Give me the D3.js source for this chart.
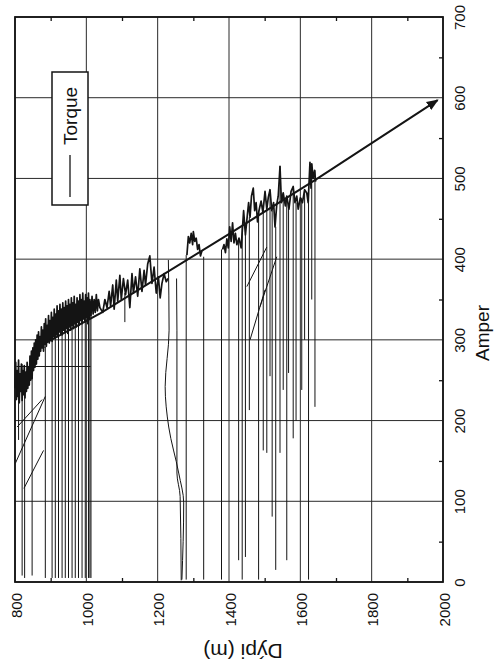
<!DOCTYPE html>
<html>
<head>
<meta charset="utf-8">
<script src="https://cdn.jsdelivr.net/npm/d3@7"></script>
<style>
  html, body { margin: 0; padding: 0; background: #fff; }
  svg { display: block; }
  text { font-family: "Liberation Sans", Arial, sans-serif; fill: #111; }
</style>
</head>
<body>
<script>
// ---------------- data ----------------
const depthTicks = [800, 1000, 1200, 1400, 1600, 1800, 2000];
const depthMinor = [900, 1100, 1300, 1500, 1700, 1900];
const amperTicks = [0, 100, 200, 300, 400, 500, 600, 700];
const amperMinor = [50, 150, 250, 350, 450, 550, 650];
const xTitle = "Dýpi (m)";
const yTitle = "Amper";
const seriesName = "Torque";

// torque trace segments [depth, amper]
const traceA = [
  [800,240],[802,272],[804,226],[806,262],[808,230],[810,275],[812,222],[814,258],[816,236],[818,270],
  [820,225],[822,262],[824,232],[826,268],[828,228],[830,260],[832,236],[834,272],[836,240],[838,266],
  [840,244],[842,280],[844,250],[846,286],[848,252],[850,290],[852,262],[854,296],[856,266],[858,300],
  [860,270],[862,306],[864,276],[866,310],[868,280],[870,304],[872,286],[874,316],[876,290],[878,312],
  [880,286],[882,320],[884,294],[886,326],[888,292],[890,318],[892,298],[894,330],[896,296],[898,324],
  [900,300],[902,334],[904,298],[906,328],[908,304],[910,338],[912,302],[914,332],[916,306],[918,342],
  [920,304],[922,336],[924,310],[926,344],[928,308],[930,338],[932,306],[934,346],[936,312],[938,340],
  [940,310],[942,348],[944,314],[946,342],[948,308],[950,350],[952,316],[954,344],[956,312],[958,352],
  [960,318],[962,346],[964,314],[966,354],[968,320],[970,344],[972,316],[974,352],[976,322],[978,348],
  [980,318],[982,356],[984,324],[986,350],[988,320],[990,358],[992,326],[994,348],[996,322],[998,356],
  [1000,328],[1002,352],[1004,320],[1006,358],[1008,326],[1010,350],[1013,330],[1016,354],[1019,332],
  [1022,350],[1025,334],[1028,356],[1031,336],[1034,350],[1038,340],[1046,334],
  [1052,350],[1058,340],[1064,360],[1068,342],[1074,368],[1078,338],[1084,374],[1088,348],[1094,380],
  [1098,350],[1104,376],[1110,356],[1116,374],[1122,340],[1128,382],[1132,358],[1138,378],[1144,354],
  [1150,388],[1156,360],[1162,386],[1166,368],[1172,394],[1178,404],[1184,370],[1190,390],[1196,358],
  [1202,378],[1207,352],[1212,370],[1218,382],[1224,372],[1229,376]
];
const traceB = [
  [1282,405],[1286,428],[1290,420],[1294,432],[1298,418],[1300,434],[1304,422],[1308,426],
  [1312,412],[1316,418],[1320,404],[1324,410]
];
const traceC = [
  [1382,412],[1386,418],[1390,408],[1394,425],[1398,414],[1402,440],[1406,422],[1410,445],[1414,420],
  [1418,432],[1422,418],[1428,426],[1434,414],[1438,440],[1441,460],[1446,430],[1450,448],[1455,470],
  [1459,452],[1463,478],[1468,488],[1472,460],[1476,470],[1480,446],[1484,460],[1490,472],[1495,458],
  [1501,484],[1506,462],[1510,476],[1515,486],[1520,460],[1525,470],[1529,440],[1534,468],[1538,478],
  [1543,515],[1547,470],[1552,482],[1558,466],[1562,478],[1568,462],[1574,484],[1580,490],[1585,470],
  [1590,478],[1594,462],[1600,476],[1606,470],[1612,486],[1618,482],[1622,470],[1627,520],[1630,488],
  [1632,518],[1636,500],[1640,510],[1643,496]
];
// vertical drops [depth, top amper, bottom amper]
const drops = [
  [810,250,176],[820,270,8],[827,255,5],[848,258,8],[885,292,5],[904,300,5],[913,320,5],[922,330,5],
  [932,308,5],[941,336,5],[950,316,5],[960,340,5],[969,320,5],[978,344,5],[988,326,5],[997,346,5],
  [1006,344,5],[1010,330,5],[1013,348,5],[1108,358,322],
  [1280,405,3],[1329,403,3],[1379,412,3],[1427,426,27],[1437,440,3],[1446,430,31],[1457,452,213],
  [1483,460,3],[1496,462,163],[1506,462,160],[1515,486,255],[1521,460,81],[1531,440,15],[1543,515,160],
  [1552,482,238],[1562,478,27],[1567,466,259],[1580,490,178],[1588,470,200],[1604,476,238],
  [1612,486,300],[1623,482,3],[1632,518,350],[1641,510,217]
];
// curved descending traces near 1230–1270 m
const curveA = [[1230,399],[1232,312],[1221,242],[1231,192],[1259,135],[1273,98],[1268,3]];
const curveB = [[1253,376],[1254,312],[1254,135],[1263,106],[1266,2]];
// connecting segments
const connectors = [
  [[801,147],[885,230]],
  [[825,116],[880,163]],
  [[806,192],[876,226]],
  [[804,267],[1012,267]],
  [[852,291],[885,291]],
  [[1450,366],[1506,415]],
  [[1487,341],[1534,403]],
  [[1459,300],[1501,362]]
];
// straight trend line with arrow
const trend = [[885,296],[1040,333],[1403,432],[1641,498],[1985,597]];

// ---------------- chart ----------------
const W = 496, H = 667;
const svg = d3.select("body").append("svg").attr("width", W).attr("height", H);

const x = d3.scaleLinear().domain([800, 2000]).range([15, 443]);
const y = d3.scaleLinear().domain([0, 700]).range([582, 17]);
const ink = "#141414";

// grid
svg.append("g").selectAll("line").data(depthTicks).join("line")
  .attr("x1", d => x(d)).attr("x2", d => x(d)).attr("y1", y(0)).attr("y2", y(700))
  .attr("stroke", "#2a2a2a").attr("stroke-width", 1);
svg.append("g").selectAll("line").data(amperTicks).join("line")
  .attr("x1", x(800)).attr("x2", x(2000)).attr("y1", d => y(d)).attr("y2", d => y(d))
  .attr("stroke", "#2a2a2a").attr("stroke-width", 1);

// minor ticks (inward)
const tickStyle = g => { g.select(".domain").remove(); g.selectAll("line").attr("stroke", ink).attr("stroke-width", 1.3); g.selectAll("text").remove(); };
svg.append("g").attr("transform", `translate(0,${y(0)})`)
  .call(d3.axisTop(x).tickValues(depthMinor).tickSize(4)).call(tickStyle);
svg.append("g").attr("transform", `translate(0,${y(700)})`)
  .call(d3.axisBottom(x).tickValues(depthMinor).tickSize(4)).call(tickStyle);
svg.append("g").attr("transform", `translate(${x(2000)},0)`)
  .call(d3.axisLeft(y).tickValues(amperMinor).tickSize(4)).call(tickStyle);

// data
const line = d3.line().x(d => x(d[0])).y(d => y(d[1]));
const dataG = svg.append("g").attr("fill", "none").attr("stroke", ink);
dataG.selectAll("line.drop").data(drops).join("line").attr("class", "drop")
  .attr("x1", d => x(d[0])).attr("x2", d => x(d[0]))
  .attr("y1", d => y(d[1])).attr("y2", d => y(d[2]))
  .attr("stroke-width", 1);
dataG.selectAll("path.curve").data([curveA, curveB]).join("path").attr("class", "curve")
  .attr("d", d3.line().x(d => x(d[0])).y(d => y(d[1])).curve(d3.curveMonotoneY))
  .attr("stroke-width", 1);
dataG.selectAll("path.conn").data(connectors).join("path").attr("class", "conn")
  .attr("d", line).attr("stroke-width", 1);
dataG.selectAll("path.trace").data([traceA, traceB, traceC]).join("path").attr("class", "trace")
  .attr("d", line).attr("stroke-width", 1.7).attr("stroke-linejoin", "round");

// trend line with arrowhead
svg.append("defs").append("marker")
  .attr("id", "arrow").attr("viewBox", "0 0 10 10").attr("refX", 9).attr("refY", 5)
  .attr("markerWidth", 6).attr("markerHeight", 6).attr("orient", "auto-start-reverse")
  .append("path").attr("d", "M0,1 L10,5 L0,9 Z").attr("fill", ink);
svg.append("path").datum(trend).attr("d", line)
  .attr("fill", "none").attr("stroke", ink).attr("stroke-width", 2)
  .attr("marker-end", "url(#arrow)");

// frame
svg.append("rect").attr("x", x(800)).attr("y", y(700))
  .attr("width", x(2000) - x(800)).attr("height", y(0) - y(700))
  .attr("fill", "none").attr("stroke", ink).attr("stroke-width", 1.8);

// right axis labels (rotated)
const yAxis = svg.append("g").attr("transform", `translate(${x(2000)},0)`)
  .call(d3.axisRight(y).tickValues(amperTicks).tickSize(0).tickFormat(d3.format("d")));
yAxis.select(".domain").remove();
yAxis.selectAll("text")
  .attr("x", 0).attr("dy", 0)
  .attr("transform", "translate(22,0) rotate(-90)")
  .attr("text-anchor", "middle")
  .style("font-size", "15px").style("font-family", "'Liberation Sans', Arial, sans-serif").attr("fill", ink);

// bottom axis labels (rotated)
const xAxis = svg.append("g").attr("transform", `translate(0,${y(0)})`)
  .call(d3.axisBottom(x).tickValues(depthTicks).tickSize(0).tickFormat(d3.format("d")));
xAxis.select(".domain").remove();
xAxis.selectAll("text")
  .attr("y", 0).attr("dy", 0)
  .attr("transform", "translate(6,11) rotate(-90)")
  .attr("text-anchor", "end")
  .style("font-size", "15px").style("font-family", "'Liberation Sans', Arial, sans-serif").attr("fill", ink);

// titles
svg.append("text").attr("transform", "translate(489,333) rotate(-90)")
  .attr("text-anchor", "middle").style("font-size", "19px").text(yTitle);
svg.append("text").attr("transform", "translate(243,644) rotate(180)")
  .attr("text-anchor", "middle").style("font-size", "21px").text(xTitle);

// legend
const leg = svg.append("g");
leg.append("rect").attr("x", 52).attr("y", 72).attr("width", 36).attr("height", 133)
  .attr("fill", "#fff").attr("stroke", ink).attr("stroke-width", 1.5);
leg.append("line").attr("x1", 70).attr("x2", 70).attr("y1", 155).attr("y2", 197)
  .attr("stroke", ink).attr("stroke-width", 1.3);
leg.append("text").attr("transform", "translate(77,145) rotate(-90)")
  .attr("text-anchor", "start").style("font-size", "19px").text(seriesName);
</script>
</body>
</html>
